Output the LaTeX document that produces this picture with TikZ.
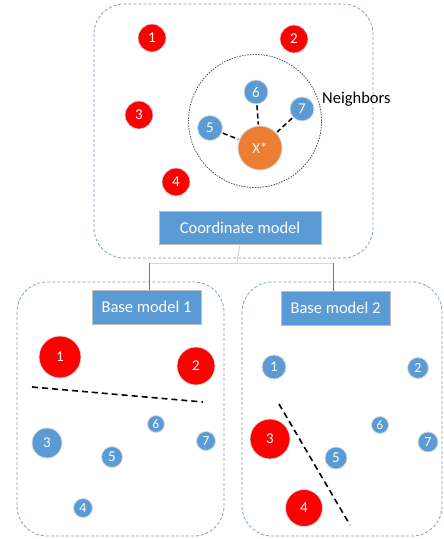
\documentclass[tikz,border=0pt]{standalone}
\usepackage{fontspec}
\setmainfont{Carlito}
\usepackage{xcolor}
\definecolor{ptred}{HTML}{FF0000}
\definecolor{ptblue}{HTML}{5B9BD5}
\definecolor{ptorange}{HTML}{ED7D31}
\definecolor{framecol}{HTML}{7F9FC3}
\definecolor{hoodcol}{HTML}{4A5468}

\begin{document}
\begin{tikzpicture}[
    x=1pt, y=-1pt,
    every node/.style={inner sep=0pt, text=white, font=\fontsize{15}{18}\selectfont},
    redpt/.style={circle, fill=ptred, draw=black!15, line width=0.8pt},
    bluept/.style={circle, fill=ptblue, draw=black!15, line width=0.8pt},
    modelbox/.style={rectangle, fill=ptblue, draw=black!25, line width=0.8pt, font=\fontsize{16.5}{20}\selectfont},
    panelbox/.style={draw=framecol, dash pattern=on 3pt off 2pt, rounded corners=30pt, line width=0.8pt},
    cutline/.style={draw=black, dash pattern=on 6pt off 4pt, line width=1.6pt},
    linkline/.style={draw=black, dash pattern=on 5pt off 3pt, line width=1.5pt, shorten <=1pt, shorten >=1pt}
]
\useasboundingbox (0,0) rectangle (444,539);

% Coordinate model panel
\draw[panelbox] (94,4) rectangle (373,258);
\node[redpt, minimum size=28pt] (c1) at (152,38) {1};
\node[redpt, minimum size=28pt] (c2) at (294,39) {2};
\node[redpt, minimum size=28pt] (c3) at (139,115) {3};
\node[redpt, minimum size=28pt] (c4) at (176,182) {4};
\node[circle, draw=hoodcol, dash pattern=on 1.5pt off 1.2pt, line width=0.8pt, minimum size=133pt] (hood) at (255,121) {};
\node[anchor=west, text=black, font=\fontsize{16.5}{20}\selectfont] (nbr) at (322,99) {Neighbors};
\node[circle, fill=ptorange, draw=black!15, line width=0.8pt, minimum size=44pt] (xstar) at (260,148) {X*};
\node[bluept, minimum size=25pt] (c5) at (210,128) {5};
\node[bluept, minimum size=24pt] (c6) at (256,92) {6};
\node[bluept, minimum size=24pt] (c7) at (302,109) {7};
\draw[linkline] (c5) -- (xstar);
\draw[linkline] (c6) -- (xstar);
\draw[linkline] (c7) -- (xstar);
\node[modelbox, minimum width=162pt, minimum height=33pt] (coord) at (240,227.5) {Coordinate model};

% Links to the base models
\coordinate (fork) at (237,263);
\coordinate (fork1) at (149,263);
\coordinate (fork2) at (333,263);
\draw[black!20, line width=0.8pt] (coord.south) -- (fork);
\draw[black!15, line width=0.8pt] (fork1) -- (fork2);

% Base model 1
\draw[panelbox] (17,282) rectangle (224,536);
\node[modelbox, minimum width=109pt, minimum height=34pt] (base1) at (146.5,307) {Base model 1};
\draw[black!55, line width=0.8pt] (fork1) -- (fork1 |- base1.north);
\node[redpt, minimum size=42pt] (a1) at (60,357) {1};
\node[redpt, minimum size=38pt] (a2) at (196,366) {2};
\node[bluept, minimum size=30pt] (a3) at (47,443) {3};
\node[bluept, minimum size=21pt] (a5) at (112,457) {5};
\node[bluept, minimum size=17pt, font=\fontsize{13}{15}\selectfont] (a6) at (156,424) {6};
\node[bluept, minimum size=19pt, font=\fontsize{14}{16}\selectfont] (a7) at (206,441) {7};
\node[bluept, minimum size=19pt, font=\fontsize{14}{16}\selectfont] (a4) at (83,508) {4};
\coordinate (cutA1) at (32,387);
\coordinate (cutA2) at (203,402);
\draw[cutline] (cutA1) -- (cutA2);

% Base model 2
\draw[panelbox] (242,282) rectangle (442,536);
\node[modelbox, minimum width=109pt, minimum height=34pt] (base2) at (335.5,308) {Base model 2};
\draw[black!55, line width=0.8pt] (fork2) -- (fork2 |- base2.north);
\node[bluept, minimum size=24pt] (b1) at (274,367) {1};
\node[bluept, minimum size=21pt, font=\fontsize{14}{16}\selectfont] (b2) at (418,368) {2};
\node[redpt, minimum size=40pt] (b3) at (270,439) {3};
\node[redpt, minimum size=37pt] (b4) at (304,508) {4};
\node[bluept, minimum size=22pt] (b5) at (336,458) {5};
\node[bluept, minimum size=17pt, font=\fontsize{13}{15}\selectfont] (b6) at (380,425) {6};
\node[bluept, minimum size=20pt, font=\fontsize{14}{16}\selectfont] (b7) at (428,442) {7};
\coordinate (cutB1) at (279,404);
\coordinate (cutB2) at (350,525);
\draw[cutline] (cutB1) -- (cutB2);

\end{tikzpicture}
\end{document}
